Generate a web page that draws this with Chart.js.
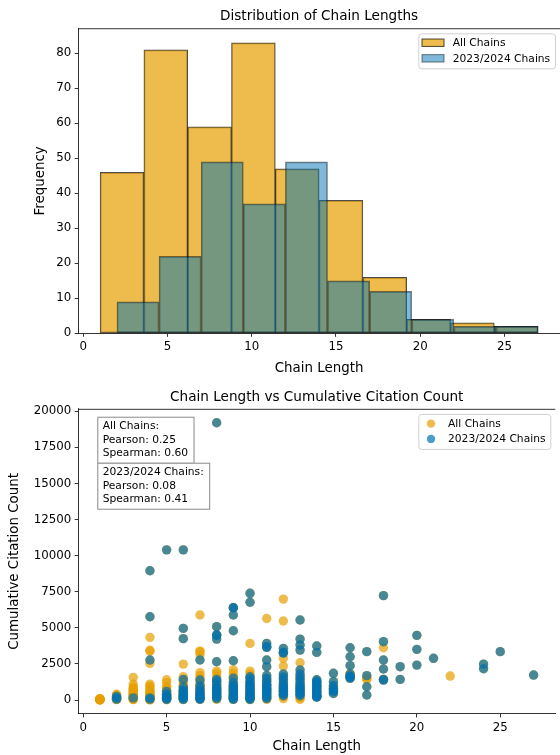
<!DOCTYPE html>
<html>
<head>
<meta charset="utf-8">
<script src="https://cdn.jsdelivr.net/npm/chart.js@4.4.1/dist/chart.umd.min.js"></script>
<style>
html,body{margin:0;padding:0;background:#fff;}
#wrap{position:relative;width:560px;height:755px;overflow:hidden;}
#c1{position:absolute;left:0;top:0;}
#c2{position:absolute;left:0;top:380px;}
</style>
</head>
<body>
<div id="wrap">
<canvas id="c1" width="560" height="380"></canvas>
<canvas id="c2" width="560" height="375"></canvas>
</div>
<script>
// ---------------- data ----------------
// Histogram
const allBinEdges    = [1, 3.6, 6.2, 8.8, 11.4, 14, 16.6, 19.2, 21.8, 24.4, 27];
const allCounts      = [46, 81, 59, 83, 47, 38, 16, 4, 3, 2];
const recentBinEdges = [2, 4.5, 7, 9.5, 12, 14.5, 17, 19.5, 22, 24.5, 27];
const recentCounts   = [9, 22, 49, 37, 49, 15, 12, 4, 2, 2];

// Scatter: citation counts per chain length
const chainLengths = [1, 2, 3, 4, 5, 6, 7, 8, 9, 10, 11, 12, 13, 14, 15, 16, 17, 18, 19, 20, 21, 22, 24, 25, 27];
// chains from 2023/2024 (also part of "All Chains")
const recentCitations = [
  [],
  [150, 60, 250],
  [150],
  [8950, 5770, 2770, 150, 60],
  [10400, 600, 400, 300, 200, 150, 100, 50],
  [10400, 4960, 4250, 1430, 900, 700, 600, 500, 400, 300, 250, 200, 100, 50],
  [2770, 1385, 1000, 800, 650, 500, 400, 300, 200, 150, 100, 50],
  [19200, 5080, 4500, 4500, 4220, 2650, 1430, 1300, 1100, 900, 800, 700, 600, 500, 400, 300, 200, 100],
  [6390, 6390, 5890, 4800, 2720, 1520, 1200, 1000, 900, 800, 700, 600, 500, 400, 300, 250, 200, 100, 50],
  [7390, 6770, 1610, 1500, 1300, 1150, 1000, 900, 800, 700, 600, 500, 400, 300, 250, 200, 100, 50],
  [3920, 3690, 3650, 2770, 2310, 1700, 1500, 1300, 1100, 1000, 900, 800, 700, 600, 500, 400, 300, 200, 100],
  [3580, 3300, 3250, 1800, 1600, 1400, 1200, 1000, 900, 800, 700, 600, 500, 400, 300],
  [5540, 4220, 3810, 3460, 2080, 1800, 1600, 1400, 1200, 1000, 900, 800, 700, 600, 500, 400, 300],
  [3740, 3300, 1400, 1300, 1200, 1100, 1000, 900, 800, 700, 600, 500, 400, 300, 250, 230, 200],
  [1850, 1270, 1000, 810, 690, 580, 450],
  [3620, 3000, 2380, 1800, 1610, 1570, 1650, 1500],
  [3350, 1690, 920, 350],
  [7230, 4040, 2770, 2150, 1430, 1380],
  [2310, 1430],
  [4480, 3510, 2420],
  [2890],
  [],
  [2490, 2170],
  [3350],
  [1730]
];
// remaining chains (only in "All Chains")
const earlierCitations = [
  [20, 35, 50, 10, 80, 60, 25, 40, 15, 90, 70, 30],
  [350, 100, 200, 50, 400, 120, 300, 80, 180, 30, 260],
  [1570, 1100, 740, 900, 600, 500, 400, 300, 200, 140, 80, 50, 250, 650, 350, 450, 800, 100, 30],
  [4340, 3450, 3380, 2540, 1100, 970, 850, 700, 600, 500, 480, 400, 350, 300, 250, 200, 150, 120, 100, 80, 50, 30, 10],
  [1400, 1200, 920, 850, 700, 650, 500, 450, 400, 350, 300, 250, 200, 150, 100, 60, 20],
  [2490, 1610, 1350, 1200, 1050, 900, 800, 650, 550, 400, 300, 200, 100, 30],
  [5890, 3390, 3350, 3120, 1900, 1700, 1500, 1200, 1000, 900, 700, 600, 500, 350, 200, 80],
  [1850, 1610, 2000, 1200, 1000, 850, 700, 550, 450, 350, 250, 150, 50],
  [1850, 1600, 1300, 1100, 950, 750, 550, 350, 150, 2100, 80],
  [3920, 2000, 1800, 1100, 950, 650, 450, 350, 150, 30],
  [5650, 1400, 800, 230, 50, 600],
  [6990, 5470, 2890, 2350, 1500, 1100, 650, 250, 100],
  [2580, 1500, 1100, 250, 150, 50],
  [900, 500],
  [700, 900],
  [1850, 1700],
  [1430, 1500],
  [3620, 1430],
  [],
  [],
  [],
  [1660],
  [],
  [],
  []
];

const lengthTicks    = [0, 5, 10, 15, 20, 25];
const frequencyTicks = [0, 10, 20, 30, 40, 50, 60, 70, 80];
const citationTicks  = [0, 2500, 5000, 7500, 10000, 12500, 15000, 17500, 20000];
const seriesNames    = ['All Chains', '2023/2024 Chains'];
const correlationText = [
  ['All Chains:', 'Pearson: 0.25', 'Spearman: 0.60'],
  ['2023/2024 Chains:', 'Pearson: 0.08', 'Spearman: 0.41']
];

// ---------------- styling ----------------
const FONT = "'DejaVu Sans', sans-serif";
Chart.defaults.font.family = FONT;
Chart.defaults.color = '#000';

const ORANGE_BAR = 'rgba(230,159,0,0.7)';
const ORANGE_EDGE = 'rgba(0,0,0,0.7)';
const BLUE_BAR = 'rgba(0,114,178,0.5)';
const BLUE_EDGE = 'rgba(0,0,0,0.5)';
const ORANGE_PT = 'rgba(230,159,0,0.7)';
const BLUE_PT = 'rgba(0,114,178,0.7)';
const TITLE_SIZE = 13.6, LABEL_SIZE = 13.4, TICK_SIZE = 11.8;

function axis(ticks, extra) {
  return Object.assign({
    type: 'linear',
    offset: false,
    grid: { display: true, drawOnChartArea: false, drawTicks: true, tickLength: 3.5, tickWidth: 0.8, tickColor: '#000', offset: false },
    border: { display: true, color: '#000', width: 0.8 },
    ticks: { font: { size: TICK_SIZE }, padding: 3.5, color: '#000', autoSkip: false, maxRotation: 0, callback: v => String(v) },
    afterBuildTicks: ax => { ax.ticks = ticks.map(v => ({ value: v })); }
  }, extra);
}

function roundRect(ctx, x, y, w, h, r) {
  ctx.beginPath();
  ctx.moveTo(x + r, y);
  ctx.lineTo(x + w - r, y); ctx.arcTo(x + w, y, x + w, y + r, r);
  ctx.lineTo(x + w, y + h - r); ctx.arcTo(x + w, y + h, x + w - r, y + h, r);
  ctx.lineTo(x + r, y + h); ctx.arcTo(x, y + h, x, y + h - r, r);
  ctx.lineTo(x, y + r); ctx.arcTo(x, y, x + r, y, r);
  ctx.closePath();
}

function topSpine(chart) {
  const { ctx, chartArea: a } = chart;
  ctx.save();
  ctx.strokeStyle = '#000'; ctx.lineWidth = 0.8;
  ctx.beginPath(); ctx.moveTo(a.left, a.top + 0.4); ctx.lineTo(a.right, a.top + 0.4); ctx.stroke();
  ctx.restore();
}

// ---------------- histogram ----------------
const toBars = (edges, counts) => counts.map((c, i) => ({ x: (edges[i] + edges[i + 1]) / 2, y: c }));

const histDecor = {
  id: 'histDecor',
  afterDraw(chart) {
    topSpine(chart);
    const { ctx, chartArea: a } = chart;
    const ds = chart.data.datasets;
    const bw = 136.7, bh = 35, bx = a.right - 141.7, by = a.top + 5;
    ctx.save();
    roundRect(ctx, bx + 0.5, by + 0.5, bw, bh, 3);
    ctx.fillStyle = 'rgba(255,255,255,0.8)'; ctx.fill();
    ctx.strokeStyle = '#d0d0d0'; ctx.lineWidth = 1; ctx.stroke();
    ctx.font = '10.7px ' + FONT; ctx.textBaseline = 'middle'; ctx.textAlign = 'left';
    ds.forEach((d, i) => {
      const cy = by + 9.4 + i * 15.6;
      ctx.fillStyle = '#fff'; ctx.fillRect(bx + 3.7, cy - 3.7, 22, 7.4);
      ctx.fillStyle = d.backgroundColor; ctx.fillRect(bx + 3.7, cy - 3.7, 22, 7.4);
      ctx.strokeStyle = d.borderColor; ctx.lineWidth = 1; ctx.strokeRect(bx + 3.7, cy - 3.7, 22, 7.4);
      ctx.fillStyle = '#000'; ctx.fillText(d.label, bx + 34.4, cy + 0.5);
    });
    ctx.restore();
  }
};

new Chart(document.getElementById('c1'), {
  type: 'bar',
  data: {
    datasets: [
      { label: seriesNames[0], data: toBars(allBinEdges, allCounts), xAxisID: 'x', yAxisID: 'y',
        backgroundColor: ORANGE_BAR, borderColor: ORANGE_EDGE, borderWidth: 1, borderSkipped: false,
        barPercentage: 1, categoryPercentage: 1, grouped: false, order: 2 },
      { label: seriesNames[1], data: toBars(recentBinEdges, recentCounts), xAxisID: 'x2', yAxisID: 'y',
        backgroundColor: BLUE_BAR, borderColor: BLUE_EDGE, borderWidth: 1, borderSkipped: false,
        barPercentage: 1, categoryPercentage: 1, grouped: false, order: 1 }
    ]
  },
  options: {
    responsive: false, animation: false,
    layout: { padding: 0 },
    plugins: {
      legend: { display: false }, tooltip: { enabled: false },
      title: { display: true, text: 'Distribution of Chain Lengths', fullSize: false, color: '#000',
        font: { size: TITLE_SIZE, weight: 'normal' }, padding: { top: 8.3, bottom: 3.7 } }
    },
    scales: {
      x: axis(lengthTicks, { min: -0.3, max: 28.3,
        title: { display: true, text: 'Chain Length', color: '#000', font: { size: LABEL_SIZE }, padding: { top: 0, bottom: 3 } },
        afterFit: s => { s.height = 46.7; } }),
      x2: { type: 'linear', display: false, min: -0.3, max: 28.3, offset: false, grid: { offset: false },
        afterBuildTicks: ax => { ax.ticks = lengthTicks.map(v => ({ value: v })); } },
      y: axis(frequencyTicks, { min: 0, max: 87.15,
        title: { display: true, text: 'Frequency', color: '#000', font: { size: LABEL_SIZE }, padding: { top: 32, bottom: 0 } },
        afterFit: s => { s.width = 78.2; } })
    }
  },
  plugins: [histDecor]
});

// ---------------- scatter ----------------
const allPoints = [], recentPoints = [];
chainLengths.forEach((len, i) => {
  earlierCitations[i].concat(recentCitations[i]).forEach(c => allPoints.push({ x: len, y: c }));
  recentCitations[i].forEach(c => recentPoints.push({ x: len, y: c }));
});

const scatterDecor = {
  id: 'scatterDecor',
  afterDraw(chart) {
    topSpine(chart);
    const { ctx, chartArea: a } = chart;
    const ds = chart.data.datasets;
    ctx.save();
    // legend
    const bw = 132, bh = 35, bx = a.right - 137, by = a.top + 5;
    roundRect(ctx, bx + 0.5, by + 0.5, bw, bh, 3);
    ctx.fillStyle = 'rgba(255,255,255,0.8)'; ctx.fill();
    ctx.strokeStyle = '#d0d0d0'; ctx.lineWidth = 1; ctx.stroke();
    ctx.font = '10.7px ' + FONT; ctx.textBaseline = 'middle'; ctx.textAlign = 'left';
    ds.forEach((d, i) => {
      const cy = by + 9.7 + i * 15.3;
      ctx.fillStyle = d.backgroundColor;
      ctx.beginPath(); ctx.arc(bx + 12.7, cy, 4.2, 0, Math.PI * 2); ctx.fill();
      ctx.fillStyle = '#000'; ctx.fillText(d.label, bx + 29.7, cy + 0.5);
    });
    // correlation boxes
    let ty = a.top + 7.8;
    const tx = a.left + 19.1;
    correlationText.forEach(lines => {
      const w = Math.max(...lines.map(t => ctx.measureText(t).width)) + 10.8;
      const h = 46;
      ctx.fillStyle = 'rgba(255,255,255,0.85)'; ctx.fillRect(tx, ty, w, h);
      ctx.strokeStyle = '#8a8a8a'; ctx.lineWidth = 1; ctx.strokeRect(tx + 0.5, ty + 0.5, w, h);
      ctx.fillStyle = '#000';
      lines.forEach((t, k) => ctx.fillText(t, tx + 5.4, ty + 10 + k * 13.2));
      ty += h;
    });
    ctx.restore();
  }
};

new Chart(document.getElementById('c2'), {
  type: 'scatter',
  data: {
    datasets: [
      { label: seriesNames[0], data: allPoints, backgroundColor: ORANGE_PT, borderWidth: 0,
        pointRadius: 4.7, pointHoverRadius: 4.7, order: 2 },
      { label: seriesNames[1], data: recentPoints, backgroundColor: BLUE_PT, borderWidth: 0,
        pointRadius: 4.7, pointHoverRadius: 4.7, order: 1 }
    ]
  },
  options: {
    responsive: false, animation: false,
    layout: { padding: 0 },
    plugins: {
      legend: { display: false }, tooltip: { enabled: false },
      title: { display: true, text: 'Chain Length vs Cumulative Citation Count', fullSize: false, color: '#000',
        font: { size: TITLE_SIZE, weight: 'normal' }, padding: { top: 9.3, bottom: 3.3 } }
    },
    scales: {
      x: axis(lengthTicks, { min: -0.3, max: 28.3,
        title: { display: true, text: 'Chain Length', color: '#000', font: { size: LABEL_SIZE }, padding: { top: 0, bottom: 0 } },
        afterFit: s => { s.height = 41.1; } }),
      y: axis(citationTicks, { min: -960, max: 20160,
        title: { display: true, text: 'Cumulative Citation Count', color: '#000', font: { size: LABEL_SIZE }, padding: { top: 6, bottom: 0 } },
        afterFit: s => { s.width = 78.2; } })
    }
  },
  plugins: [scatterDecor]
});
</script>
</body>
</html>
